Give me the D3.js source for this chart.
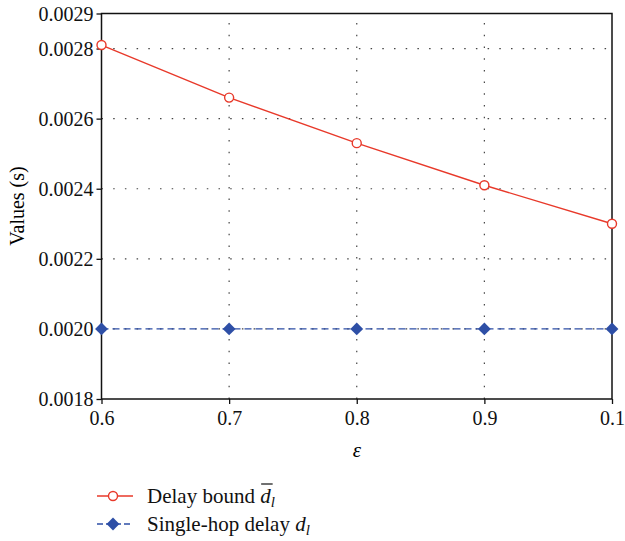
<!DOCTYPE html>
<html><head><meta charset="utf-8">
<script src="https://cdn.jsdelivr.net/npm/d3@7"></script>
</head><body style="margin:0;background:#fff">
<svg id="c" width="625" height="541" style="display:block;font-family:'Liberation Serif'" font-family="Liberation Serif"></svg>
<script>
const categories = ["0.6","0.7","0.8","0.9","0.1"];
const delayBound = [0.00281,0.00266,0.00253,0.00241,0.00230];
const singleHop = [0.0020,0.0020,0.0020,0.0020,0.0020];
const yTicks = [0.0018,0.0020,0.0022,0.0024,0.0026,0.0028,0.0029];

const svg = d3.select("#c");
const m = {l:101.5, r:612, t:13.5, b:399};
const font = "Liberation Serif";
const x = d3.scalePoint().domain(categories).range([m.l, m.r]);
const y = d3.scaleLinear().domain([0.0018,0.0029]).range([m.b, m.t]);

// grid
const g = svg.append("g");
g.selectAll("line.h").data(yTicks.filter(v=>v>0.0018 && v<0.0029)).join("line")
  .attr("x1",m.l).attr("x2",m.r).attr("y1",d=>y(d)).attr("y2",d=>y(d))
  .attr("stroke","#444").attr("stroke-width",1.2).attr("stroke-dasharray","1.5,10.2");
g.selectAll("line.v").data(categories.slice(1,-1)).join("line")
  .attr("x1",d=>x(d)).attr("x2",d=>x(d)).attr("y1",m.b).attr("y2",m.t)
  .attr("stroke","#444").attr("stroke-width",1.2).attr("stroke-dasharray","1.5,10.2");

// frame
svg.append("rect").attr("x",m.l).attr("y",m.t).attr("width",m.r-m.l).attr("height",m.b-m.t)
  .attr("fill","none").attr("stroke","#111").attr("stroke-width",1.5);

// axes
const ya = svg.append("g").attr("transform",`translate(${m.l},0)`)
  .call(d3.axisLeft(y).tickValues(yTicks).tickFormat(d3.format(".4f")).tickSize(5).tickPadding(3));
const xa = svg.append("g").attr("transform",`translate(0,${m.b})`)
  .call(d3.axisBottom(x).tickSize(5).tickPadding(4));
[ya,xa].forEach(a=>{
  a.attr("font-family",font).attr("font-size",20);
  a.select(".domain").remove();
  a.selectAll("line").attr("stroke","#111").attr("stroke-width",1.3);
  a.selectAll("text").attr("font-family",font).attr("font-size",20).attr("fill","#111");
});
xa.selectAll("text").attr("dy","0.85em");
ya.selectAll("text").attr("dy","0.33em");

// axis titles
svg.append("text").attr("x",357).attr("y",457).attr("text-anchor","middle")
  .attr("font-family",font).attr("font-style","italic").attr("font-size",21).text("ε");
svg.append("text").attr("transform","translate(24,206) rotate(-90)").attr("text-anchor","middle")
  .attr("font-family",font).attr("font-size",20).text("Values (s)");

const red = "#e8392a", blue = "#2e4fa6";
// blue series
const line = d3.line().x((d,i)=>x(categories[i])).y(d=>y(d));
svg.append("path").datum(singleHop).attr("d",line).attr("fill","none")
  .attr("stroke",blue).attr("stroke-width",1.4).attr("stroke-dasharray","7,4");
const diamond = d3.symbol().type(d3.symbolDiamond2).size(105);
svg.selectAll("path.dm").data(singleHop).join("path")
  .attr("transform",(d,i)=>`translate(${x(categories[i])},${y(d)})`)
  .attr("d",diamond).attr("fill",blue);

// red series
svg.append("path").datum(delayBound).attr("d",line).attr("fill","none")
  .attr("stroke",red).attr("stroke-width",1.4);
svg.selectAll("circle.rc").data(delayBound).join("circle")
  .attr("cx",(d,i)=>x(categories[i])).attr("cy",d=>y(d)).attr("r",4.5)
  .attr("fill","#fff").attr("stroke",red).attr("stroke-width",1.4);

// legend
const lg = svg.append("g");
lg.append("line").attr("x1",97).attr("x2",133).attr("y1",496).attr("y2",496).attr("stroke",red).attr("stroke-width",1.4);
lg.append("circle").attr("cx",113).attr("cy",496).attr("r",4.5).attr("fill","#fff").attr("stroke",red).attr("stroke-width",1.4);
lg.append("line").attr("x1",97).attr("x2",133).attr("y1",524).attr("y2",524).attr("stroke",blue).attr("stroke-width",1.4).attr("stroke-dasharray","6,3");
lg.append("path").attr("transform","translate(113,524)").attr("d",diamond).attr("fill",blue);

const t1 = lg.append("text").attr("x",147).attr("y",503).attr("font-family",font).attr("font-size",21).attr("fill","#111");
t1.append("tspan").text("Delay bound ");
t1.append("tspan").attr("font-style","italic").text("d");
t1.append("tspan").attr("font-style","italic").attr("font-size",15).attr("dy",4).text("l");
const dx0 = t1.node().getStartPositionOfChar(12).x;
const dx1 = t1.node().getEndPositionOfChar(12).x;
lg.append("line").attr("x1",dx0+1).attr("x2",dx1+2).attr("y1",484).attr("y2",484).attr("stroke","#111").attr("stroke-width",1.2);

const t2 = lg.append("text").attr("x",147).attr("y",531).attr("font-family",font).attr("font-size",21).attr("fill","#111");
t2.append("tspan").text("Single-hop delay ");
t2.append("tspan").attr("font-style","italic").text("d");
t2.append("tspan").attr("font-style","italic").attr("font-size",15).attr("dy",4).text("l");
</script>
</body></html>
